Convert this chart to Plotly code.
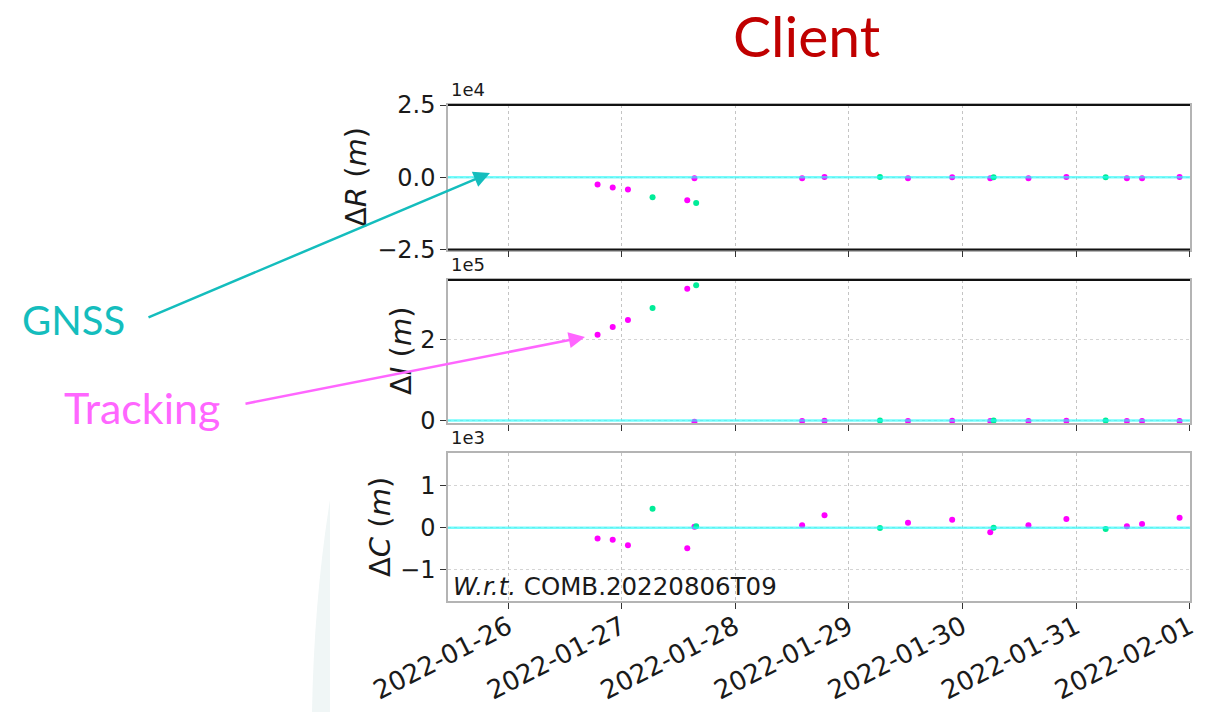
import plotly.graph_objects as go

# ---- orbit differences w.r.t. COMB.20220806T09 ----
trk_time = ["2022-01-26 18:55", "2022-01-26 22:07", "2022-01-27 01:20", "2022-01-27 13:52",
            "2022-01-27 15:23", "2022-01-28 14:08", "2022-01-28 18:52", "2022-01-29 12:30",
            "2022-01-29 21:50", "2022-01-30 05:53", "2022-01-30 13:57", "2022-01-30 21:58",
            "2022-01-31 10:45", "2022-01-31 13:57", "2022-01-31 21:53"]
trk_dR = [-2540, -3580, -4270, -7990, -380, -350, 60, -380, 40, -350, -380, 50, -380, -380, 50]
trk_dI = [211300, 230200, 247400, 324300, -3200, -800, -600, -800, -700, -800, -800, -700, -800, -800, -800]
trk_dC = [-260, -290, -420, -490, 20, 55, 297, 117, 188, -109, 55, 203, 31, 86, 234]

gnss_time = ["2022-01-27 06:32", "2022-01-27 15:45", "2022-01-29 06:35", "2022-01-30 06:36", "2022-01-31 06:16"]
gnss_dR = [-6940, -8890, 50, 30, 40]
gnss_dI = [276900, 332700, 0, 0, 0]
gnss_dC = [450, 35, -10, 0, -31]

# tick values and their scaled labels (offset shown separately)
r_tickvals = [-25000, 0, 25000]
r_ticktext = ["\u22122.5", "0.0", "2.5"]
i_tickvals = [0, 200000]
i_ticktext = ["0", "2"]
c_tickvals = [-1000, 0, 1000]
c_ticktext = ["\u22121", "0", "1"]
offsets = ["1e4", "1e5", "1e3"]
y_titles = ["\u0394<i>R</i> (<i>m</i>)", "\u0394<i>I</i> (<i>m</i>)", "\u0394<i>C</i> (<i>m</i>)"]

W, H = 1215, 712
def px(x):
    return x / W
def py(y):
    return 1 - y / H

TRK_COLOR = "#ff00ff"
GNSS_COLOR = "#00ec98"
REF_COLOR = "rgba(40,250,250,0.65)"
FONT = "DejaVu Sans"
TXT = "#1a1a1a"

fig = go.Figure()
panels = [(trk_dR, gnss_dR, "x", "y"), (trk_dI, gnss_dI, "x2", "y2"), (trk_dC, gnss_dC, "x3", "y3")]
for trk, gnss, xa, ya in panels:
    fig.add_trace(go.Scatter(x=trk_time, y=trk, mode="markers", xaxis=xa, yaxis=ya,
                             marker=dict(color=TRK_COLOR, size=6), showlegend=False))
    fig.add_trace(go.Scatter(x=gnss_time, y=gnss, mode="markers", xaxis=xa, yaxis=ya,
                             marker=dict(color=GNSS_COLOR, size=6), showlegend=False))

x_dom = [px(448), px(1190)]
y_doms = [[py(249.5), py(105)], [py(423), py(280)], [py(601), py(453)]]
y_ranges = [[-25000, 25000], [-6000, 345700], [-1750, 1780]]
y_ticks = [(r_tickvals, r_ticktext), (i_tickvals, i_ticktext), (c_tickvals, c_ticktext)]

x_common = dict(
    type="date", range=["2022-01-25 11:19", "2022-02-01 00:05"], domain=x_dom,
    tick0="2022-01-26", dtick=86400000, tickformat="%Y-%m-%d", automargin=False,
    showgrid=True, gridcolor="#c4c4c4", griddash="dot", gridwidth=1,
    showline=True, mirror=True, linecolor="#b4b4b4", linewidth=1.5,
    ticks="outside", ticklen=6, tickcolor="#333", tickwidth=1.3,
    zeroline=False,
)
y_common = dict(
    showgrid=True, gridcolor="#d4d4d4", griddash="dot", gridwidth=1, automargin=False,
    showline=True, mirror=True, linecolor="#b4b4b4", linewidth=1.5,
    ticks="outside", ticklen=6, tickcolor="#333", tickwidth=1.3,
    zeroline=False, tickfont=dict(family=FONT, size=24, color=TXT),
)

layout = dict(
    width=W, height=H, margin=dict(l=0, r=0, t=0, b=0, autoexpand=False),
    paper_bgcolor="white", plot_bgcolor="white", showlegend=False,
)
for k in range(3):
    xn = "xaxis" if k == 0 else f"xaxis{k+1}"
    yn = "yaxis" if k == 0 else f"yaxis{k+1}"
    ya = "y" if k == 0 else f"y{k+1}"
    xa = "x" if k == 0 else f"x{k+1}"
    xd = dict(x_common, anchor=ya)
    if k < 2:
        xd["showticklabels"] = False
    else:
        xd["tickangle"] = -27
        xd["ticklabelstandoff"] = -7
        xd["tickfont"] = dict(family=FONT, size=26, color=TXT)
    layout[xn] = xd
    layout[yn] = dict(y_common, anchor=xa, domain=y_doms[k], range=y_ranges[k],
                      tickvals=y_ticks[k][0], ticktext=y_ticks[k][1])
fig.update_layout(**layout)

shapes = []
# faint slide decoration at lower left
shapes.append(dict(type="path", xref="paper", yref="paper", layer="below",
                   path=f"M {px(330)},{py(500)} Q {px(314)},{py(600)} {px(312)},0 L {px(330)},0 Z",
                   fillcolor="#f0f6f6", line=dict(width=0)))
# zero reference line in each panel
for k in range(3):
    ya = "y" if k == 0 else f"y{k+1}"
    xa = "x" if k == 0 else f"x{k+1}"
    shapes.append(dict(type="line", xref=f"{xa} domain", yref=ya, x0=0, x1=1, y0=0, y1=0,
                       line=dict(color=REF_COLOR, width=2.5), layer="above"))
# darker frame edges
for yy in (105, 249.5, 280):
    shapes.append(dict(type="line", xref="paper", yref="paper", x0=px(448), x1=px(1190),
                       y0=py(yy), y1=py(yy), line=dict(color="#111", width=1.8)))
fig.update_layout(shapes=shapes)

def label(text, x, y, size, color, family=FONT, **kw):
    d = dict(text=text, x=px(x), y=py(y), xref="paper", yref="paper", showarrow=False,
             xanchor="center", yanchor="middle", font=dict(family=family, size=size, color=color))
    d.update(kw)
    return d

ann = []
ann.append(label("Client", 806, 35, 57, "#c00000", family="Lato"))
for k, yy in enumerate((102, 277, 450)):
    ann.append(label(offsets[k], 449, yy, 18, TXT, xanchor="left", yanchor="bottom"))
for k, (xx, yy) in enumerate(((356, 177), (401, 351), (380, 527))):
    ann.append(label(y_titles[k], xx, yy, 29, TXT, textangle=-90))
ann.append(label("<i>W.r.t.</i> COMB.20220806T09", 451, 586, 24.5, TXT, xanchor="left"))
# side labels with arrows
ann.append(label("GNSS", 73, 320, 40, "#14bdbd", family="Lato"))
ann.append(label("Tracking", 142, 408, 43, "#ff66ff", family="Lato"))
ann.append(dict(text="", x=px(490), y=py(173), xref="paper", yref="paper", showarrow=True,
                ax=147 - 490, ay=318 - 173, arrowhead=2, arrowsize=1.3, arrowwidth=2.5,
                arrowcolor="#14bdbd", standoff=0, startstandoff=0))
ann.append(dict(text="", x=px(585), y=py(337), xref="paper", yref="paper", showarrow=True,
                ax=244 - 585, ay=404 - 337, arrowhead=2, arrowsize=1.3, arrowwidth=2.5,
                arrowcolor="#ff66ff", standoff=0, startstandoff=0))
fig.update_layout(annotations=ann)

fig.write_html("out.html")
